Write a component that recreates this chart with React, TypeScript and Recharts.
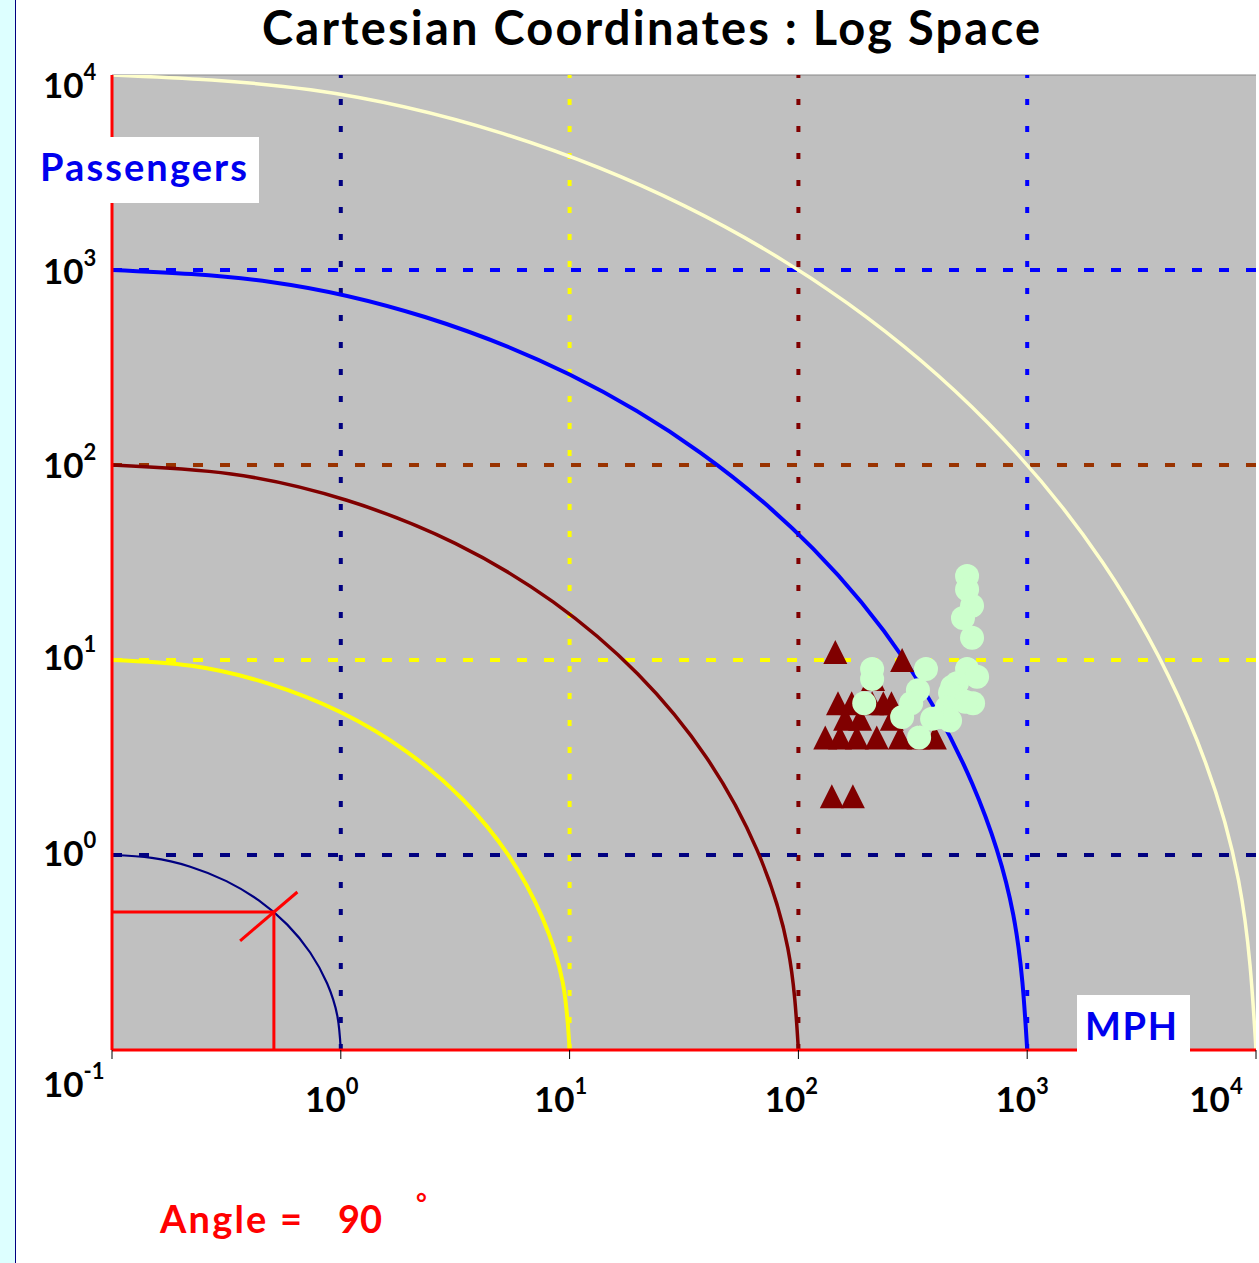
import React from 'react';
import {
  ComposedChart,
  XAxis,
  YAxis,
  Line,
  Scatter,
  ReferenceLine,
  CartesianGrid,
} from 'recharts';

// ---- Axis ticks (decade exponents: 10^n) ----
const X_TICKS = [-1, 0, 1, 2, 3, 4];
const Y_TICKS = [-1, 0, 1, 2, 3, 4];

// ---- Guide arcs, in decade (log10) units, read along the arc from top-left to bottom-right ----
const ARC_1_X = [-1, -0.826, -0.658, -0.5, -0.357, -0.234, -0.134, -0.06, -0.015, 0];
const ARC_1_Y = [0, -0.015, -0.06, -0.134, -0.234, -0.357, -0.5, -0.658, -0.826, -1];
const ARC_10_X = [-1, -0.653, -0.316, 0, 0.286, 0.532, 0.732, 0.879, 0.97, 1];
const ARC_10_Y = [1, 0.97, 0.879, 0.732, 0.532, 0.286, 0, -0.316, -0.653, -1];
const ARC_100_X = [-1, -0.479, 0.026, 0.5, 0.928, 1.298, 1.598, 1.819, 1.954, 2];
const ARC_100_Y = [2, 1.954, 1.819, 1.598, 1.298, 0.928, 0.5, 0.026, -0.479, -1];
const ARC_1000_X = [-1, -0.306, 0.368, 1, 1.571, 2.064, 2.464, 2.759, 2.939, 3];
const ARC_1000_Y = [3, 2.939, 2.759, 2.464, 2.064, 1.571, 1, 0.368, -0.306, -1];
const ARC_10000_X = [-1, -0.132, 0.71, 1.5, 2.214, 2.83, 3.33, 3.699, 3.924, 4];
const ARC_10000_Y = [4, 3.924, 3.699, 3.33, 2.83, 2.214, 1.5, 0.71, -0.132, -1];

// ---- Scatter series (real values: MPH, Passengers) ----
const TRIANGLE_MPH = [131, 152, 180, 220, 278, 335, 395, 160, 186, 256, 149, 171, 210, 235, 255, 212, 145, 284, 140, 173];
const TRIANGLE_PAX = [4, 4, 4, 4, 4, 4, 4, 5, 5, 5, 6, 6, 6, 6, 6, 8, 11, 10, 2, 2];

const CIRCLE_MPH = [546, 546, 574, 524, 574, 210, 210, 361, 546, 604, 493, 470, 460, 580, 536, 446, 416, 460, 333, 311, 284, 384, 194, 337];
const CIRCLE_PAX = [27, 23, 19, 16.4, 13, 9, 8, 9, 9, 8.2, 7.6, 7.3, 6.8, 6, 6.1, 5.7, 5.1, 4.9, 7, 6, 5.1, 5, 6, 4];

// ---- Angle marker on the unit arc (real values) ----
const ANGLE_POINT = { mph: 0.51, pax: 0.51 };
const ANGLE_TICK_FROM = 0.363;
const ANGLE_TICK_TO = 0.646;
const ANGLE_VALUE = 90;

// ---- Build tables the library needs ----
const toArc = (xs: number[], ys: number[]) => xs.map((x, i) => ({ x, y: ys[i] }));
const toLogPts = (xs: number[], ys: number[]) =>
  xs.map((x, i) => ({ x: Math.log10(x), y: Math.log10(ys[i]) }));

const arcs = [
  { key: 'r1', data: toArc(ARC_1_X, ARC_1_Y), color: '#000080', width: 2.2 },
  { key: 'r10', data: toArc(ARC_10_X, ARC_10_Y), color: '#FFFF00', width: 4 },
  { key: 'r100', data: toArc(ARC_100_X, ARC_100_Y), color: '#800000', width: 3.5 },
  { key: 'r1000', data: toArc(ARC_1000_X, ARC_1000_Y), color: '#0000FF', width: 4 },
  { key: 'r10000', data: toArc(ARC_10000_X, ARC_10000_Y), color: '#FFFFCC', width: 3.5 },
];

const triangles = toLogPts(TRIANGLE_MPH, TRIANGLE_PAX);
const circles = toLogPts(CIRCLE_MPH, CIRCLE_PAX);

const ax = Math.log10(ANGLE_POINT.mph);
const ay = Math.log10(ANGLE_POINT.pax);
const t0 = Math.log10(ANGLE_TICK_FROM);
const t1 = Math.log10(ANGLE_TICK_TO);

const FONT = 'Lato, "Noto Sans", sans-serif';

const X_LABEL_DX: Record<number, number> = { 0: -9, 1: -9, 2: -7, 3: -5, 4: -40 };
const Y_LABEL_DY: Record<string, number> = { '4': 23, '3': 14, '2': 13, '1': 10, '0': 11, '-1': 47 };

function XTick(props: any) {
  const { x, payload } = props;
  const v = payload.value;
  if (v === -1) return <g />;
  return (
    <text
      x={x + (X_LABEL_DX[v] ?? 0)}
      y={1112}
      textAnchor="middle"
      fontFamily={FONT}
      fontWeight={700}
      fontSize={35}
      fill="#000"
    >
      10
      <tspan dy={-18} fontSize={22}>
        {String(v)}
      </tspan>
    </text>
  );
}

function YTick(props: any) {
  const { y, payload } = props;
  const v = payload.value;
  return (
    <text x={43} y={y + (Y_LABEL_DY[String(v)] ?? 0)} textAnchor="start" fontFamily={FONT} fontWeight={700} fontSize={35} fill="#000">
      10
      <tspan dy={-18} fontSize={22}>
        {v === -1 ? '-1' : String(v)}
      </tspan>
    </text>
  );
}

const TriangleShape = (props: any) => {
  const { cx, cy } = props;
  if (cx == null || cy == null) return <g />;
  return <polygon points={`${cx},${cy - 12} ${cx - 12},${cy + 12} ${cx + 12},${cy + 12}`} fill="#800000" />;
};

const CircleShape = (props: any) => {
  const { cx, cy } = props;
  if (cx == null || cy == null) return <g />;
  return <circle cx={cx} cy={cy} r={12} fill="#CCFFCC" />;
};

const V_DASH = '6 21';
const H_DASH = '10 17';

export default function App() {
  return (
    <div style={{ position: 'absolute', left: 0, top: 0, width: 1259, height: 1263, background: '#fff' }}>
      <ComposedChart
        width={1259}
        height={1263}
        margin={{ top: 75, right: 3, bottom: 183, left: 52 }}
        style={{ position: 'absolute', left: 0, top: 0 }}
      >
        <CartesianGrid horizontal={false} vertical={false} fill="#C0C0C0" stroke="none" />
        <XAxis
          type="number"
          dataKey="x"
          domain={[-1, 4]}
          ticks={X_TICKS}
          interval={0}
          allowDataOverflow
          height={30}
          axisLine={{ stroke: '#FF0000', strokeWidth: 3 }}
          tickLine={{ stroke: '#000', strokeWidth: 1 }}
          tickSize={9}
          tick={XTick}
        />
        <YAxis
          type="number"
          dataKey="y"
          domain={[-1, 4]}
          ticks={Y_TICKS}
          interval={0}
          allowDataOverflow
          width={60}
          axisLine={{ stroke: '#FF0000', strokeWidth: 3 }}
          tickLine={false}
          tick={YTick}
        />
        <ReferenceLine y={4} stroke="#888888" strokeWidth={1} />
        <ReferenceLine x={0} stroke="#000080" strokeWidth={4} strokeDasharray={V_DASH} />
        <ReferenceLine x={1} stroke="#FFFF00" strokeWidth={4} strokeDasharray={V_DASH} />
        <ReferenceLine x={2} stroke="#800000" strokeWidth={4} strokeDasharray={V_DASH} />
        <ReferenceLine x={3} stroke="#0000FF" strokeWidth={4} strokeDasharray={V_DASH} />
        <ReferenceLine y={0} stroke="#000080" strokeWidth={4} strokeDasharray={H_DASH} />
        <ReferenceLine y={1} stroke="#FFFF00" strokeWidth={4} strokeDasharray={H_DASH} />
        <ReferenceLine y={2} stroke="#993300" strokeWidth={4} strokeDasharray={H_DASH} />
        <ReferenceLine y={3} stroke="#0000FF" strokeWidth={4} strokeDasharray={H_DASH} />

        <Scatter data={triangles} shape={TriangleShape} isAnimationActive={false} />
        <Scatter data={circles} shape={CircleShape} isAnimationActive={false} />

        {arcs.map((a) => (
          <Line
            key={a.key}
            data={a.data}
            dataKey="y"
            type="natural"
            stroke={a.color}
            strokeWidth={a.width}
            dot={false}
            activeDot={false}
            isAnimationActive={false}
          />
        ))}

        <ReferenceLine segment={[{ x: -1, y: ay }, { x: ax, y: ay }]} stroke="#FF0000" strokeWidth={3} />
        <ReferenceLine segment={[{ x: ax, y: ay }, { x: ax, y: -1 }]} stroke="#FF0000" strokeWidth={3} />
        <ReferenceLine segment={[{ x: t0, y: t0 }, { x: t1, y: t1 }]} stroke="#FF0000" strokeWidth={3} />
      </ComposedChart>

      <svg
        width={1259}
        height={1263}
        style={{ position: 'absolute', left: 0, top: 0, pointerEvents: 'none' }}
      >
        <rect x={0} y={0} width={15} height={1263} fill="#DDFFFF" />
        <line x1={15.5} y1={0} x2={15.5} y2={1263} stroke="#000080" strokeWidth={1} />
        <text x={651} y={45} textAnchor="middle" fontFamily={FONT} fontWeight={700} fontSize={47} fill="#000" textLength={778} lengthAdjust="spacing">
          Cartesian Coordinates : Log Space
        </text>
        <rect x={30} y={137} width={229} height={66} fill="#FFFFFF" />
        <text x={40} y={181} fontFamily={FONT} fontWeight={700} fontSize={38} fill="#0000EE" textLength={207} lengthAdjust="spacing">
          Passengers
        </text>
        <rect x={1077} y={995} width={113} height={57} fill="#FFFFFF" />
        <text x={1085} y={1040} fontFamily={FONT} fontWeight={700} fontSize={38} fill="#0000EE" textLength={92} lengthAdjust="spacing">
          MPH
        </text>
        <text x={160} y={1233} fontFamily={FONT} fontWeight={700} fontSize={38} fill="#FF0000" textLength={142} lengthAdjust="spacing">
          Angle =
        </text>
        <text x={338} y={1233} fontFamily={FONT} fontWeight={700} fontSize={38} fill="#FF0000">
          {String(ANGLE_VALUE)}
        </text>
        <text x={416} y={1213} fontFamily={FONT} fontWeight={700} fontSize={26} fill="#FF0000">
          °
        </text>
      </svg>
    </div>
  );
}
